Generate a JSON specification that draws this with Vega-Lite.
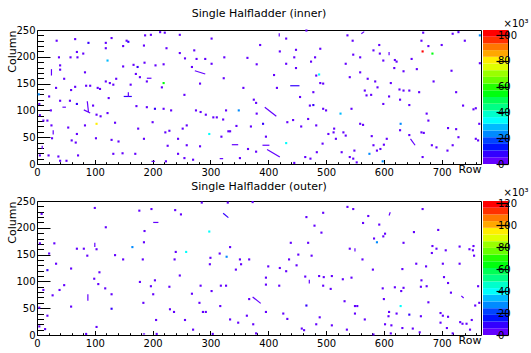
{
  "$schema": "https://vega.github.io/schema/vega-lite/v6.json",
  "background": "white",
  "padding": {"left": 5, "top": 7, "right": 0, "bottom": 0},
  "config": {
    "font": "DejaVu Sans",
    "view": {"stroke": "black", "strokeWidth": 1},
    "axis": {"labelFont": "DejaVu Sans", "labelFontSize": 10, "labelColor": "black", "tickColor": "black", "domainColor": "black", "titleFont": "DejaVu Sans", "titleFontSize": 11, "titleFontWeight": "normal", "titleColor": "black", "grid": false, "labelFlush": false, "labelOverlap": false, "zindex": 1},
    "title": {"font": "DejaVu Sans", "fontSize": 11, "fontWeight": "normal", "color": "black"}
  },
  "datasets": {
    "innerHits": [
      {"r":34,"c":230,"v":2},{"r":66,"c":233,"v":2},{"r":89,"c":226,"v":7},{"r":119,"c":226,"v":2},{"r":129,"c":235,"v":2},{"r":155,"c":230,"v":2},{"r":158,"c":228,"v":7},{"r":187,"c":240,"v":2},{"r":197,"c":241,"v":2},{"r":213,"c":246,"v":2},{"r":221,"c":245,"v":2},{"r":247,"c":241,"v":2},{"r":119,"c":216,"v":2},{"r":149,"c":220,"v":2},{"r":185,"c":221,"v":2},{"r":224,"c":216,"v":2},{"r":247,"c":207,"v":2},{"r":272,"c":212,"v":2},{"r":69,"c":209,"v":2},{"r":80,"c":206,"v":2},{"r":58,"c":199,"v":2},{"r":70,"c":199,"v":2},{"r":38,"c":199,"v":2},{"r":40,"c":184,"v":2},{"r":40,"c":176,"v":2},{"r":83,"c":171,"v":2},{"r":122,"c":193,"v":28},{"r":149,"c":182,"v":2},{"r":167,"c":185,"v":2},{"r":174,"c":181,"v":7},{"r":186,"c":189,"v":2},{"r":205,"c":184,"v":2},{"r":219,"c":186,"v":2},{"r":268,"c":181,"v":2},{"r":47,"c":159,"v":2},{"r":33,"c":142,"v":2},{"r":59,"c":138,"v":2},{"r":66,"c":144,"v":2},{"r":85,"c":146,"v":2},{"r":92,"c":146,"v":2},{"r":105,"c":142,"v":2},{"r":109,"c":140,"v":2},{"r":119,"c":154,"v":2},{"r":126,"c":151,"v":2},{"r":132,"c":148,"v":2},{"r":137,"c":159,"v":2},{"r":162,"c":148,"v":2},{"r":171,"c":168,"v":2},{"r":178,"c":162,"v":2},{"r":190,"c":154,"v":2},{"r":216,"c":143,"v":2},{"r":219,"c":151,"v":54},{"r":21,"c":126,"v":2},{"r":40,"c":118,"v":2},{"r":57,"c":118,"v":2},{"r":69,"c":112,"v":7},{"r":97,"c":109,"v":2},{"r":103,"c":92,"v":2},{"r":110,"c":89,"v":2},{"r":122,"c":95,"v":2},{"r":124,"c":123,"v":2},{"r":172,"c":108,"v":2},{"r":190,"c":106,"v":2},{"r":204,"c":103,"v":7},{"r":219,"c":103,"v":2},{"r":232,"c":100,"v":2},{"r":255,"c":129,"v":2},{"r":275,"c":100,"v":2},{"r":4,"c":112,"v":2},{"r":5,"c":91,"v":2},{"r":11,"c":81,"v":2},{"r":18,"c":81,"v":2},{"r":25,"c":72,"v":2},{"r":26,"c":48,"v":2},{"r":54,"c":68,"v":2},{"r":69,"c":56,"v":2},{"r":60,"c":44,"v":2},{"r":67,"c":40,"v":2},{"r":103,"c":75,"v":80},{"r":83,"c":72,"v":2},{"r":102,"c":48,"v":2},{"r":135,"c":77,"v":2},{"r":129,"c":45,"v":2},{"r":141,"c":42,"v":2},{"r":175,"c":66,"v":2},{"r":200,"c":78,"v":2},{"r":185,"c":47,"v":2},{"r":222,"c":59,"v":2},{"r":229,"c":62,"v":2},{"r":259,"c":72,"v":2},{"r":252,"c":66,"v":2},{"r":226,"c":34,"v":2},{"r":244,"c":47,"v":2},{"r":5,"c":16,"v":2},{"r":20,"c":16,"v":2},{"r":37,"c":14,"v":2},{"r":40,"c":6,"v":2},{"r":51,"c":6,"v":2},{"r":71,"c":16,"v":2},{"r":132,"c":19,"v":2},{"r":148,"c":20,"v":2},{"r":170,"c":19,"v":2},{"r":223,"c":5,"v":2},{"r":244,"c":19,"v":2},{"r":255,"c":11,"v":2},{"r":270,"c":8,"v":2},{"r":3,"c":130,"v":23},{"r":24,"c":100,"v":2},
      {"r":466,"c":249,"v":2},{"r":302,"c":234,"v":2},{"r":431,"c":234,"v":2},{"r":537,"c":240,"v":2},{"r":546,"c":230,"v":2},{"r":256,"c":197,"v":2},{"r":276,"c":196,"v":2},{"r":291,"c":196,"v":2},{"r":324,"c":199,"v":2},{"r":364,"c":198,"v":2},{"r":386,"c":222,"v":2},{"r":420,"c":210,"v":2},{"r":448,"c":213,"v":2},{"r":445,"c":199,"v":2},{"r":490,"c":215,"v":2},{"r":481,"c":199,"v":2},{"r":474,"c":191,"v":2},{"r":547,"c":204,"v":2},{"r":559,"c":199,"v":2},{"r":582,"c":212,"v":2},{"r":302,"c":187,"v":2},{"r":323,"c":160,"v":2},{"r":380,"c":186,"v":2},{"r":431,"c":187,"v":2},{"r":410,"c":166,"v":2},{"r":448,"c":179,"v":2},{"r":483,"c":165,"v":2},{"r":490,"c":151,"v":2},{"r":488,"c":167,"v":34},{"r":534,"c":187,"v":2},{"r":541,"c":162,"v":2},{"r":559,"c":171,"v":2},{"r":572,"c":159,"v":2},{"r":585,"c":154,"v":2},{"r":357,"c":142,"v":2},{"r":415,"c":142,"v":2},{"r":478,"c":134,"v":2},{"r":495,"c":150,"v":2},{"r":282,"c":150,"v":2},{"r":375,"c":120,"v":2},{"r":379,"c":114,"v":2},{"r":455,"c":125,"v":2},{"r":478,"c":110,"v":7},{"r":472,"c":109,"v":2},{"r":495,"c":103,"v":2},{"r":500,"c":100,"v":2},{"r":525,"c":94,"v":28},{"r":544,"c":103,"v":2},{"r":567,"c":137,"v":2},{"r":570,"c":128,"v":2},{"r":578,"c":129,"v":2},{"r":283,"c":97,"v":2},{"r":292,"c":92,"v":2},{"r":305,"c":87,"v":2},{"r":311,"c":87,"v":2},{"r":327,"c":100,"v":2},{"r":349,"c":100,"v":23},{"r":322,"c":83,"v":2},{"r":331,"c":61,"v":2},{"r":345,"c":71,"v":2},{"r":370,"c":70,"v":2},{"r":380,"c":94,"v":2},{"r":391,"c":75,"v":7},{"r":433,"c":78,"v":2},{"r":443,"c":82,"v":2},{"r":457,"c":70,"v":2},{"r":469,"c":84,"v":2},{"r":483,"c":72,"v":2},{"r":514,"c":66,"v":2},{"r":504,"c":56,"v":2},{"r":530,"c":59,"v":2},{"r":534,"c":53,"v":2},{"r":559,"c":75,"v":2},{"r":564,"c":73,"v":2},{"r":549,"c":25,"v":2},{"r":579,"c":52,"v":2},{"r":582,"c":35,"v":2},{"r":298,"c":56,"v":34},{"r":319,"c":51,"v":2},{"r":334,"c":61,"v":2},{"r":365,"c":28,"v":2},{"r":379,"c":23,"v":2},{"r":396,"c":51,"v":2},{"r":431,"c":39,"v":34},{"r":259,"c":35,"v":2},{"r":282,"c":33,"v":2},{"r":351,"c":11,"v":2},{"r":445,"c":2,"v":2},{"r":464,"c":13,"v":2},{"r":473,"c":10,"v":2},{"r":494,"c":38,"v":2},{"r":484,"c":22,"v":2},{"r":527,"c":22,"v":2},{"r":541,"c":13,"v":2},{"r":547,"c":10,"v":2},{"r":553,"c":3,"v":2},{"r":575,"c":19,"v":23},{"r":517,"c":47,"v":2},{"r":513,"c":59,"v":2},
      {"r":668,"c":245,"v":2},{"r":719,"c":243,"v":2},{"r":729,"c":246,"v":2},{"r":665,"c":230,"v":2},{"r":740,"c":230,"v":2},{"r":766,"c":240,"v":23},{"r":592,"c":222,"v":2},{"r":677,"c":220,"v":2},{"r":700,"c":222,"v":2},{"r":593,"c":206,"v":2},{"r":667,"c":210,"v":101},{"r":684,"c":206,"v":54},{"r":599,"c":193,"v":2},{"r":619,"c":194,"v":2},{"r":622,"c":191,"v":2},{"r":648,"c":196,"v":2},{"r":618,"c":179,"v":2},{"r":634,"c":173,"v":2},{"r":657,"c":177,"v":2},{"r":717,"c":174,"v":2},{"r":766,"c":188,"v":2},{"r":612,"c":151,"v":2},{"r":686,"c":154,"v":2},{"r":589,"c":143,"v":2},{"r":627,"c":139,"v":2},{"r":634,"c":137,"v":2},{"r":644,"c":137,"v":2},{"r":661,"c":134,"v":2},{"r":609,"c":126,"v":2},{"r":628,"c":120,"v":2},{"r":644,"c":110,"v":2},{"r":599,"c":112,"v":2},{"r":725,"c":134,"v":2},{"r":737,"c":109,"v":2},{"r":755,"c":102,"v":2},{"r":759,"c":104,"v":2},{"r":674,"c":94,"v":2},{"r":677,"c":81,"v":2},{"r":629,"c":75,"v":23},{"r":765,"c":75,"v":2},{"r":628,"c":63,"v":2},{"r":644,"c":54,"v":2},{"r":665,"c":59,"v":2},{"r":669,"c":58,"v":2},{"r":711,"c":67,"v":2},{"r":725,"c":65,"v":2},{"r":729,"c":50,"v":2},{"r":759,"c":47,"v":2},{"r":763,"c":44,"v":2},{"r":605,"c":47,"v":2},{"r":600,"c":36,"v":2},{"r":594,"c":28,"v":2},{"r":588,"c":25,"v":2},{"r":683,"c":35,"v":2},{"r":691,"c":31,"v":2},{"r":719,"c":35,"v":2},{"r":710,"c":25,"v":2},{"r":667,"c":13,"v":2},{"r":598,"c":5,"v":23}
    ],
    "innerTracks": [
      {"r":150,"c":126,"r2":164,"c2":126,"v":7},{"r":158,"c":125,"r2":158,"c2":134,"v":2},{"r":25,"c":165,"r2":25,"c2":177,"v":2},{"r":87,"c":117,"r2":89,"c2":97,"v":2},{"r":81,"c":101,"r2":92,"c2":95,"v":2},{"r":44,"c":106,"r2":50,"c2":106,"v":2},{"r":190,"c":160,"r2":198,"c2":160,"v":2},{"r":28,"c":55,"r2":28,"c2":63,"v":2},{"r":9,"c":28,"r2":9,"c2":34,"v":2},{"r":198,"c":5,"r2":204,"c2":5,"v":2},{"r":273,"c":174,"r2":291,"c2":168,"v":2},{"r":438,"c":146,"r2":454,"c2":146,"v":7},{"r":394,"c":106,"r2":414,"c2":89,"v":2},{"r":398,"c":27,"r2":420,"c2":13,"v":2},{"r":337,"c":36,"r2":348,"c2":36,"v":2},{"r":390,"c":35,"r2":402,"c2":35,"v":2},{"r":316,"c":10,"r2":322,"c2":10,"v":2},{"r":419,"c":238,"r2":419,"c2":244,"v":2},{"r":561,"c":243,"r2":566,"c2":247,"v":2},{"r":646,"c":47,"r2":654,"c2":35,"v":2},{"r":609,"c":203,"r2":609,"c2":209,"v":2}
    ],
    "outerHits": [
      {"r":100,"c":237,"v":2},{"r":177,"c":232,"v":2},{"r":198,"c":235,"v":2},{"r":239,"c":233,"v":2},{"r":249,"c":225,"v":2},{"r":8,"c":226,"v":2},{"r":119,"c":201,"v":2},{"r":186,"c":194,"v":2},{"r":5,"c":171,"v":2},{"r":30,"c":171,"v":2},{"r":21,"c":152,"v":2},{"r":69,"c":161,"v":2},{"r":81,"c":161,"v":2},{"r":87,"c":148,"v":2},{"r":103,"c":160,"v":2},{"r":135,"c":149,"v":2},{"r":149,"c":141,"v":2},{"r":165,"c":164,"v":27},{"r":183,"c":141,"v":2},{"r":185,"c":173,"v":2},{"r":238,"c":141,"v":2},{"r":240,"c":155,"v":2},{"r":258,"c":155,"v":40},{"r":33,"c":133,"v":2},{"r":59,"c":124,"v":2},{"r":18,"c":121,"v":7},{"r":108,"c":117,"v":2},{"r":99,"c":105,"v":2},{"r":106,"c":95,"v":2},{"r":118,"c":87,"v":2},{"r":178,"c":99,"v":2},{"r":197,"c":91,"v":2},{"r":204,"c":102,"v":2},{"r":229,"c":90,"v":2},{"r":247,"c":111,"v":2},{"r":11,"c":84,"v":2},{"r":39,"c":84,"v":2},{"r":47,"c":93,"v":2},{"r":27,"c":74,"v":2},{"r":129,"c":76,"v":2},{"r":201,"c":76,"v":2},{"r":268,"c":77,"v":2},{"r":281,"c":60,"v":2},{"r":4,"c":51,"v":2},{"r":59,"c":53,"v":2},{"r":129,"c":49,"v":7},{"r":184,"c":60,"v":2},{"r":230,"c":48,"v":2},{"r":237,"c":43,"v":2},{"r":18,"c":36,"v":2},{"r":206,"c":28,"v":2},{"r":256,"c":28,"v":2},{"r":4,"c":16,"v":2},{"r":103,"c":15,"v":2},{"r":270,"c":10,"v":2},{"r":85,"c":2,"v":2},{"r":207,"c":2,"v":2},{"r":14,"c":11,"v":2},
      {"r":285,"c":247,"v":2},{"r":330,"c":247,"v":2},{"r":373,"c":248,"v":2},{"r":466,"c":220,"v":2},{"r":495,"c":228,"v":2},{"r":537,"c":239,"v":2},{"r":547,"c":235,"v":2},{"r":573,"c":222,"v":2},{"r":298,"c":193,"v":40},{"r":480,"c":204,"v":2},{"r":492,"c":191,"v":2},{"r":564,"c":209,"v":2},{"r":334,"c":164,"v":2},{"r":316,"c":152,"v":2},{"r":328,"c":146,"v":27},{"r":300,"c":144,"v":2},{"r":351,"c":141,"v":2},{"r":367,"c":141,"v":2},{"r":439,"c":172,"v":2},{"r":469,"c":172,"v":2},{"r":452,"c":150,"v":2},{"r":475,"c":148,"v":2},{"r":436,"c":141,"v":2},{"r":541,"c":161,"v":2},{"r":563,"c":141,"v":2},{"r":299,"c":132,"v":2},{"r":344,"c":122,"v":2},{"r":353,"c":132,"v":2},{"r":400,"c":128,"v":2},{"r":420,"c":125,"v":2},{"r":431,"c":119,"v":2},{"r":449,"c":130,"v":2},{"r":396,"c":107,"v":2},{"r":464,"c":109,"v":2},{"r":488,"c":110,"v":2},{"r":496,"c":108,"v":2},{"r":510,"c":110,"v":2},{"r":529,"c":104,"v":2},{"r":544,"c":107,"v":2},{"r":283,"c":92,"v":2},{"r":318,"c":92,"v":2},{"r":327,"c":92,"v":2},{"r":396,"c":94,"v":2},{"r":419,"c":92,"v":2},{"r":495,"c":92,"v":2},{"r":508,"c":86,"v":2},{"r":367,"c":67,"v":2},{"r":302,"c":82,"v":2},{"r":317,"c":54,"v":2},{"r":287,"c":43,"v":2},{"r":292,"c":43,"v":2},{"r":363,"c":36,"v":2},{"r":396,"c":43,"v":2},{"r":426,"c":40,"v":2},{"r":466,"c":55,"v":7},{"r":489,"c":33,"v":2},{"r":532,"c":63,"v":2},{"r":550,"c":54,"v":2},{"r":554,"c":54,"v":2},{"r":550,"c":40,"v":2},{"r":567,"c":29,"v":2},{"r":334,"c":29,"v":2},{"r":348,"c":23,"v":2},{"r":374,"c":20,"v":2},{"r":433,"c":30,"v":2},{"r":304,"c":2,"v":2},{"r":379,"c":3,"v":2},{"r":458,"c":12,"v":2},{"r":462,"c":9,"v":2},{"r":483,"c":20,"v":2},{"r":510,"c":18,"v":2},{"r":536,"c":10,"v":2},{"r":582,"c":1,"v":2},
      {"r":667,"c":235,"v":2},{"r":592,"c":206,"v":2},{"r":602,"c":189,"v":2},{"r":599,"c":184,"v":2},{"r":652,"c":192,"v":2},{"r":694,"c":196,"v":2},{"r":583,"c":180,"v":2},{"r":588,"c":173,"v":27},{"r":634,"c":172,"v":2},{"r":684,"c":166,"v":2},{"r":691,"c":161,"v":2},{"r":707,"c":158,"v":2},{"r":731,"c":165,"v":2},{"r":748,"c":160,"v":2},{"r":755,"c":166,"v":2},{"r":754,"c":158,"v":2},{"r":756,"c":148,"v":2},{"r":683,"c":153,"v":2},{"r":656,"c":133,"v":2},{"r":673,"c":128,"v":2},{"r":702,"c":133,"v":2},{"r":731,"c":133,"v":2},{"r":581,"c":122,"v":2},{"r":632,"c":123,"v":2},{"r":704,"c":108,"v":2},{"r":665,"c":102,"v":2},{"r":711,"c":97,"v":2},{"r":664,"c":90,"v":2},{"r":674,"c":91,"v":2},{"r":763,"c":91,"v":2},{"r":598,"c":87,"v":2},{"r":619,"c":89,"v":2},{"r":634,"c":88,"v":2},{"r":630,"c":82,"v":2},{"r":716,"c":79,"v":2},{"r":600,"c":67,"v":2},{"r":677,"c":61,"v":2},{"r":765,"c":60,"v":2},{"r":758,"c":55,"v":2},{"r":629,"c":54,"v":40},{"r":609,"c":43,"v":2},{"r":608,"c":35,"v":2},{"r":622,"c":40,"v":2},{"r":644,"c":38,"v":7},{"r":664,"c":35,"v":2},{"r":698,"c":41,"v":2},{"r":702,"c":36,"v":2},{"r":711,"c":34,"v":2},{"r":732,"c":24,"v":2},{"r":736,"c":21,"v":2},{"r":743,"c":21,"v":2},{"r":752,"c":28,"v":2},{"r":602,"c":20,"v":2},{"r":613,"c":18,"v":2},{"r":632,"c":13,"v":2},{"r":650,"c":12,"v":2},{"r":698,"c":23,"v":2},{"r":709,"c":13,"v":2},{"r":749,"c":10,"v":2},{"r":662,"c":5,"v":2},{"r":719,"c":3,"v":2},{"r":612,"c":3,"v":2}
    ],
    "outerTracks": [
      {"r":201,"c":210,"r2":210,"c2":210,"v":2},{"r":100,"c":164,"r2":100,"c2":172,"v":2},{"r":88,"c":64,"r2":88,"c2":76,"v":2},{"r":183,"c":2,"r2":187,"c2":2,"v":2},{"r":322,"c":227,"r2":331,"c2":219,"v":7},{"r":373,"c":71,"r2":387,"c2":59,"v":2},{"r":471,"c":96,"r2":471,"c2":103,"v":2},{"r":550,"c":156,"r2":550,"c2":162,"v":2},{"r":609,"c":223,"r2":611,"c2":229,"v":2},{"r":734,"c":73,"r2":738,"c2":69,"v":2}
    ],
    "innerBands": [
      {"k":0,"lo":0,"hi":5.2},{"k":1,"lo":5.2,"hi":10.4},{"k":2,"lo":10.4,"hi":15.6},{"k":3,"lo":15.6,"hi":20.8},{"k":4,"lo":20.8,"hi":26},{"k":5,"lo":26,"hi":31.2},{"k":6,"lo":31.2,"hi":36.4},{"k":7,"lo":36.4,"hi":41.6},{"k":8,"lo":41.6,"hi":46.8},{"k":9,"lo":46.8,"hi":52},{"k":10,"lo":52,"hi":57.2},{"k":11,"lo":57.2,"hi":62.4},{"k":12,"lo":62.4,"hi":67.6},{"k":13,"lo":67.6,"hi":72.8},{"k":14,"lo":72.8,"hi":78},{"k":15,"lo":78,"hi":83.2},{"k":16,"lo":83.2,"hi":88.4},{"k":17,"lo":88.4,"hi":93.6},{"k":18,"lo":93.6,"hi":98.8},{"k":19,"lo":98.8,"hi":104}
    ],
    "outerBands": [
      {"k":0,"lo":0,"hi":6.1},{"k":1,"lo":6.1,"hi":12.2},{"k":2,"lo":12.2,"hi":18.3},{"k":3,"lo":18.3,"hi":24.4},{"k":4,"lo":24.4,"hi":30.5},{"k":5,"lo":30.5,"hi":36.6},{"k":6,"lo":36.6,"hi":42.7},{"k":7,"lo":42.7,"hi":48.8},{"k":8,"lo":48.8,"hi":54.9},{"k":9,"lo":54.9,"hi":61},{"k":10,"lo":61,"hi":67.1},{"k":11,"lo":67.1,"hi":73.2},{"k":12,"lo":73.2,"hi":79.3},{"k":13,"lo":79.3,"hi":85.4},{"k":14,"lo":85.4,"hi":91.5},{"k":15,"lo":91.5,"hi":97.6},{"k":16,"lo":97.6,"hi":103.7},{"k":17,"lo":103.7,"hi":109.8},{"k":18,"lo":109.8,"hi":115.9},{"k":19,"lo":115.9,"hi":122}
    ]
  },
  "columns": 2,
  "spacing": {"row": 37, "column": 2},
  "bounds": "flush",
  "resolve": {"scale": {"color": "independent", "x": "independent", "y": "independent"}},
  "concat": [
    {
      "width": 444, "height": 134,
      "title": {"text": "Single Halfladder (inner)", "anchor": "middle", "frame": "group", "offset": 6},
      "resolve": {"axis": {"x": "independent", "y": "independent"}},
      "layer": [
        {
          "data": {"name": "innerHits"},
          "mark": {"type": "point", "shape": "square", "filled": true, "size": 4.5, "opacity": 1, "strokeWidth": 0},
          "encoding": {
            "x": {"field": "r", "type": "quantitative", "scale": {"domain": [0, 768], "nice": false, "zero": false},
                  "axis": {"orient": "bottom", "values": [0,100,200,300,400,500,600,700], "ticks": false, "domain": false, "labelPadding": 3, "title": "Row", "titleX": 444, "titleY": 8, "titleAlign": "right", "titleAnchor": "end", "titleBaseline": "alphabetic"}},
            "y": {"field": "c", "type": "quantitative", "scale": {"domain": [0, 250], "nice": false, "zero": false},
                  "axis": {"orient": "left", "values": [0,50,100,150,200,250], "ticks": false, "domain": false, "labelPadding": 2, "title": "Column", "titleAngle": 270, "titleAlign": "right", "titleBaseline": "alphabetic", "titleX": -22, "titleY": 0}},
            "color": {"field": "v", "type": "quantitative", "legend": null,
                      "scale": {"type": "quantize", "domain": [0, 104], "nice": false, "zero": false, "range": ["#6300ff","#3300ff","#0014ff","#0044ff","#008bff","#00bbff","#00fffc","#00ffcc","#00ff85","#00ff55","#00ff0e","#22ff00","#69ff00","#99ff00","#e0ff00","#ffee00","#ffa700","#ff7700","#ff3000","#ff0000"]}}
          }
        },
        {
          "data": {"name": "innerTracks"},
          "mark": {"type": "rule", "strokeWidth": 1.2},
          "encoding": {
            "x": {"field": "r", "type": "quantitative", "scale": {"domain": [0, 768], "nice": false, "zero": false},
                  "axis": {"orient": "bottom", "values": [0,20,40,60,80,100,120,140,160,180,200,220,240,260,280,300,320,340,360,380,400,420,440,460,480,500,520,540,560,580,600,620,640,660,680,700,720,740,760], "labels": false, "domain": false, "title": null, "tickSize": {"condition": {"test": "datum.value % 100 === 0", "value": -4.5}, "value": -2.3}}},
            "x2": {"field": "r2"},
            "y": {"field": "c", "type": "quantitative", "scale": {"domain": [0, 250], "nice": false, "zero": false},
                  "axis": {"orient": "left", "values": [0,10,20,30,40,50,60,70,80,90,100,110,120,130,140,150,160,170,180,190,200,210,220,230,240,250], "labels": false, "domain": false, "title": null, "tickSize": {"condition": {"test": "datum.value % 50 === 0", "value": -13}, "value": -6.5}}},
            "y2": {"field": "c2"},
            "color": {"field": "v", "type": "quantitative", "legend": null,
                      "scale": {"type": "quantize", "domain": [0, 104], "nice": false, "zero": false, "range": ["#6300ff","#3300ff","#0014ff","#0044ff","#008bff","#00bbff","#00fffc","#00ffcc","#00ff85","#00ff55","#00ff0e","#22ff00","#69ff00","#99ff00","#e0ff00","#ffee00","#ffa700","#ff7700","#ff3000","#ff0000"]}}
          }
        }
      ]
    },
    {
      "width": 25, "height": 134,
      "view": {"stroke": null},
      "data": {"name": "innerBands"},
      "mark": {"type": "rect"},
      "encoding": {
        "x": {"datum": 0, "type": "quantitative", "scale": {"domain": [0, 1]}, "axis": null},
        "x2": {"datum": 1},
        "y": {"field": "lo", "type": "quantitative", "scale": {"domain": [0, 104], "nice": false, "zero": false},
              "axis": {"orient": "right", "zindex": 2, "values": [0,20,40,60,80,100], "tickSize": -12, "tickWidth": 1.2, "tickColor": "black", "domain": true, "labelPadding": 1.5, "title": "×10³", "titleAngle": 0, "titleAlign": "left", "titleBaseline": "alphabetic", "titleX": -5, "titleY": -4, "titleFontSize": 10}},
        "y2": {"field": "hi"},
        "color": {"field": "k", "type": "ordinal", "legend": null,
                  "scale": {"domain": [0,1,2,3,4,5,6,7,8,9,10,11,12,13,14,15,16,17,18,19], "range": ["#6300ff","#3300ff","#0014ff","#0044ff","#008bff","#00bbff","#00fffc","#00ffcc","#00ff85","#00ff55","#00ff0e","#22ff00","#69ff00","#99ff00","#e0ff00","#ffee00","#ffa700","#ff7700","#ff3000","#ff0000"]}}
      }
    },
    {
      "width": 444, "height": 134,
      "title": {"text": "Single Halfladder (outer)", "anchor": "middle", "frame": "group", "offset": 4},
      "resolve": {"axis": {"x": "independent", "y": "independent"}},
      "layer": [
        {
          "data": {"name": "outerHits"},
          "mark": {"type": "point", "shape": "square", "filled": true, "size": 4.5, "opacity": 1, "strokeWidth": 0},
          "encoding": {
            "x": {"field": "r", "type": "quantitative", "scale": {"domain": [0, 768], "nice": false, "zero": false},
                  "axis": {"orient": "bottom", "values": [0,100,200,300,400,500,600,700], "ticks": false, "domain": false, "labelPadding": 3, "title": "Row", "titleX": 444, "titleY": 8, "titleAlign": "right", "titleAnchor": "end", "titleBaseline": "alphabetic"}},
            "y": {"field": "c", "type": "quantitative", "scale": {"domain": [0, 250], "nice": false, "zero": false},
                  "axis": {"orient": "left", "values": [0,50,100,150,200,250], "ticks": false, "domain": false, "labelPadding": 2, "title": "Column", "titleAngle": 270, "titleAlign": "right", "titleBaseline": "alphabetic", "titleX": -22, "titleY": 0}},
            "color": {"field": "v", "type": "quantitative", "legend": null,
                      "scale": {"type": "quantize", "domain": [0, 122], "nice": false, "zero": false, "range": ["#6300ff","#3300ff","#0014ff","#0044ff","#008bff","#00bbff","#00fffc","#00ffcc","#00ff85","#00ff55","#00ff0e","#22ff00","#69ff00","#99ff00","#e0ff00","#ffee00","#ffa700","#ff7700","#ff3000","#ff0000"]}}
          }
        },
        {
          "data": {"name": "outerTracks"},
          "mark": {"type": "rule", "strokeWidth": 1.2},
          "encoding": {
            "x": {"field": "r", "type": "quantitative", "scale": {"domain": [0, 768], "nice": false, "zero": false},
                  "axis": {"orient": "bottom", "values": [0,20,40,60,80,100,120,140,160,180,200,220,240,260,280,300,320,340,360,380,400,420,440,460,480,500,520,540,560,580,600,620,640,660,680,700,720,740,760], "labels": false, "domain": false, "title": null, "tickSize": {"condition": {"test": "datum.value % 100 === 0", "value": -4.5}, "value": -2.3}}},
            "x2": {"field": "r2"},
            "y": {"field": "c", "type": "quantitative", "scale": {"domain": [0, 250], "nice": false, "zero": false},
                  "axis": {"orient": "left", "values": [0,10,20,30,40,50,60,70,80,90,100,110,120,130,140,150,160,170,180,190,200,210,220,230,240,250], "labels": false, "domain": false, "title": null, "tickSize": {"condition": {"test": "datum.value % 50 === 0", "value": -13}, "value": -6.5}}},
            "y2": {"field": "c2"},
            "color": {"field": "v", "type": "quantitative", "legend": null,
                      "scale": {"type": "quantize", "domain": [0, 122], "nice": false, "zero": false, "range": ["#6300ff","#3300ff","#0014ff","#0044ff","#008bff","#00bbff","#00fffc","#00ffcc","#00ff85","#00ff55","#00ff0e","#22ff00","#69ff00","#99ff00","#e0ff00","#ffee00","#ffa700","#ff7700","#ff3000","#ff0000"]}}
          }
        }
      ]
    },
    {
      "width": 25, "height": 134,
      "view": {"stroke": null},
      "data": {"name": "outerBands"},
      "mark": {"type": "rect"},
      "encoding": {
        "x": {"datum": 0, "type": "quantitative", "scale": {"domain": [0, 1]}, "axis": null},
        "x2": {"datum": 1},
        "y": {"field": "lo", "type": "quantitative", "scale": {"domain": [0, 122], "nice": false, "zero": false},
              "axis": {"orient": "right", "zindex": 2, "values": [0,20,40,60,80,100,120], "tickSize": -12, "tickWidth": 1.2, "tickColor": "black", "domain": true, "labelPadding": 1.5, "title": "×10³", "titleAngle": 0, "titleAlign": "left", "titleBaseline": "alphabetic", "titleX": -5, "titleY": -6, "titleFontSize": 10}},
        "y2": {"field": "hi"},
        "color": {"field": "k", "type": "ordinal", "legend": null,
                  "scale": {"domain": [0,1,2,3,4,5,6,7,8,9,10,11,12,13,14,15,16,17,18,19], "range": ["#6300ff","#3300ff","#0014ff","#0044ff","#008bff","#00bbff","#00fffc","#00ffcc","#00ff85","#00ff55","#00ff0e","#22ff00","#69ff00","#99ff00","#e0ff00","#ffee00","#ffa700","#ff7700","#ff3000","#ff0000"]}}
      }
    }
  ]
}
